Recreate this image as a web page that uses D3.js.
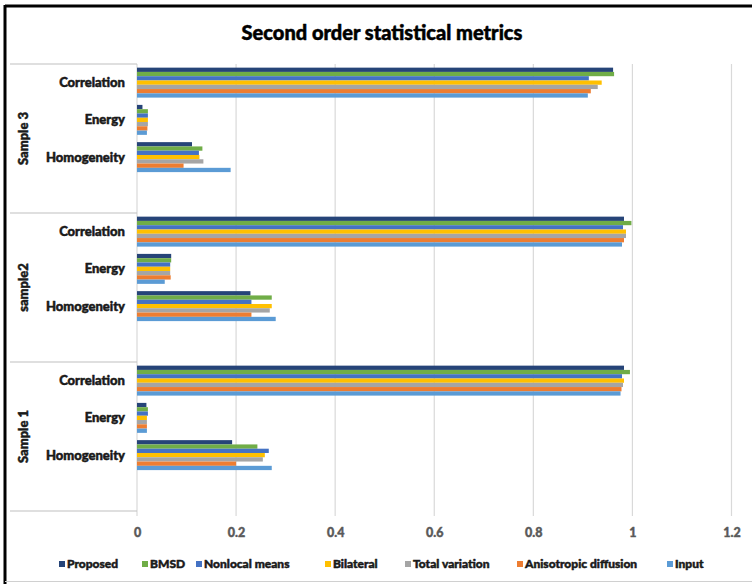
<!DOCTYPE html>
<html>
<head>
<meta charset="utf-8">
<script src="https://cdn.jsdelivr.net/npm/d3@7"></script>
<style>
  html, body { margin: 0; padding: 0; background: #fff; }
  svg { display: block; font-family: Lato, "Open Sans", sans-serif; }
  .heavy { paint-order: stroke; stroke-linejoin: round; }
</style>
</head>
<body>
<svg id="chart" width="752" height="584"></svg>
<script>
// Sample groups (top to bottom) and metrics within each group
const samples = ["Sample 3", "sample2", "Sample 1"];
const metrics = ["Correlation", "Energy", "Homogeneity"];
const seriesNames = ["Proposed", "BMSD", "Nonlocal means", "Bilateral", "Total variation", "Anisotropic diffusion", "Input"];
const seriesColors = ["#264478", "#70AD47", "#4472C4", "#FFC000", "#A5A5A5", "#ED7D31", "#5B9BD5"];
const xTicks = [0, 0.2, 0.4, 0.6, 0.8, 1, 1.2];

// Values per series: [Sample 3: Corr, Energy, Homog, sample2: ..., Sample 1: ...]
const proposed     = [0.961, 0.011, 0.111, 0.983, 0.069, 0.229, 0.983, 0.019, 0.192];
const bmsd         = [0.963, 0.022, 0.132, 0.998, 0.069, 0.272, 0.995, 0.022, 0.243];
const nonlocal     = [0.912, 0.022, 0.125, 0.981, 0.067, 0.231, 0.979, 0.022, 0.266];
const bilateral    = [0.938, 0.022, 0.126, 0.987, 0.067, 0.272, 0.983, 0.020, 0.258];
const totalVar     = [0.930, 0.022, 0.134, 0.987, 0.067, 0.268, 0.981, 0.020, 0.254];
const anisotropic  = [0.916, 0.021, 0.094, 0.983, 0.068, 0.231, 0.978, 0.020, 0.200];
const input        = [0.910, 0.020, 0.189, 0.979, 0.056, 0.280, 0.976, 0.020, 0.272];

const seriesValues = [proposed, bmsd, nonlocal, bilateral, totalVar, anisotropic, input];

const svg = d3.select("#chart");

// Outer frame
svg.append("line").attr("x1", 5).attr("x2", 752).attr("y1", 6).attr("y2", 6)
  .attr("stroke", "#000").attr("stroke-width", 3);
svg.append("line").attr("x1", 5).attr("x2", 5).attr("y1", 5).attr("y2", 584)
  .attr("stroke", "#000").attr("stroke-width", 3);
svg.append("line").attr("x1", 5).attr("x2", 752).attr("y1", 581.5).attr("y2", 581.5)
  .attr("stroke", "#d0d0d0").attr("stroke-width", 1);

// Title
svg.append("text")
  .attr("class", "heavy")
  .attr("x", 382).attr("y", 40)
  .attr("text-anchor", "middle")
  .attr("font-size", 20).attr("font-weight", 900)
  .attr("fill", "#000").attr("stroke", "#000").attr("stroke-width", 0.5)
  .text("Second order statistical metrics");

const plotTop = 64, plotBottom = 511;
const x = d3.scaleLinear().domain([0, 1.2]).range([137, 731.5]);

const yGroup = d3.scaleBand().domain(samples).range([plotTop, plotBottom]);
// Each group has the three metrics plus one empty slot
const yMetric = d3.scaleBand().domain([...metrics, ""]).range([0, yGroup.bandwidth()]);
const ySeries = d3.scaleBand().domain(seriesNames).range([0, yMetric.bandwidth()])
  .paddingInner(0).paddingOuter(0.85);

// Vertical gridlines
svg.append("g").selectAll("line").data(xTicks).join("line")
  .attr("x1", d => x(d)).attr("x2", d => x(d))
  .attr("y1", plotTop).attr("y2", 516)
  .attr("stroke", "#d9d9d9").attr("stroke-width", 1.2);

// Group separators on the category axis
svg.append("g").selectAll("line").data([...samples.map(s => yGroup(s)), plotBottom]).join("line")
  .attr("x1", 10).attr("x2", x(0))
  .attr("y1", d => d).attr("y2", d => d)
  .attr("stroke", "#bfbfbf").attr("stroke-width", 1.2);

// Bars
const barData = [];
samples.forEach((s, si) => {
  metrics.forEach((m, mi) => {
    seriesNames.forEach((name, k) => {
      barData.push({ sample: s, metric: m, series: name, color: seriesColors[k],
                     value: seriesValues[k][si * 3 + mi] });
    });
  });
});

svg.append("g").selectAll("rect").data(barData).join("rect")
  .attr("x", x(0))
  .attr("y", d => yGroup(d.sample) + yMetric(d.metric) + ySeries(d.series))
  .attr("width", d => x(d.value) - x(0))
  .attr("height", ySeries.bandwidth())
  .attr("fill", d => d.color);

// Metric labels
const metricLabels = [];
samples.forEach(s => metrics.forEach(m => metricLabels.push({ s, m })));
svg.append("g").selectAll("text").data(metricLabels).join("text")
  .attr("class", "heavy")
  .attr("x", 125)
  .attr("y", d => yGroup(d.s) + yMetric(d.m) + yMetric.bandwidth() / 2)
  .attr("dy", "0.35em")
  .attr("text-anchor", "end")
  .attr("font-size", 13).attr("font-weight", 900)
  .attr("fill", "#1a1a1a").attr("stroke", "#1a1a1a").attr("stroke-width", 0.5)
  .text(d => d.m);

// Sample labels (rotated)
svg.append("g").selectAll("text").data(samples).join("text")
  .attr("class", "heavy")
  .attr("transform", d => `translate(23,${yGroup(d) + yGroup.bandwidth() / 2}) rotate(-90)`)
  .attr("dy", "0.35em")
  .attr("text-anchor", "middle")
  .attr("font-size", 13).attr("font-weight", 900)
  .attr("fill", "#1a1a1a").attr("stroke", "#1a1a1a").attr("stroke-width", 0.5)
  .text(d => d);

// X axis tick labels
const xAxis = d3.axisBottom(x).tickValues(xTicks).tickSize(0).tickPadding(0)
  .tickFormat(d3.format("~g"));
const gx = svg.append("g").attr("transform", "translate(0,528)").call(xAxis);
gx.select(".domain").remove();
gx.selectAll("text")
  .attr("class", "heavy")
  .attr("font-family", "Lato, sans-serif")
  .attr("font-size", 12.5).attr("font-weight", 900)
  .attr("fill", "#595959").attr("stroke", "#595959").attr("stroke-width", 0.4);

// Legend
const legendX = [59, 142, 196, 325, 405, 517, 667];
const legend = svg.append("g").selectAll("g").data(seriesNames).join("g")
  .attr("transform", (d, i) => `translate(${legendX[i]},564)`);
legend.append("rect").attr("x", 0).attr("y", -3).attr("width", 6).attr("height", 6)
  .attr("fill", (d, i) => seriesColors[i]);
legend.append("text").attr("class", "heavy").attr("x", 8).attr("dy", "0.35em")
  .attr("font-size", 12).attr("font-weight", 900)
  .attr("fill", "#1a1a1a").attr("stroke", "#1a1a1a").attr("stroke-width", 0.5)
  .text(d => d);
</script>
</body>
</html>
